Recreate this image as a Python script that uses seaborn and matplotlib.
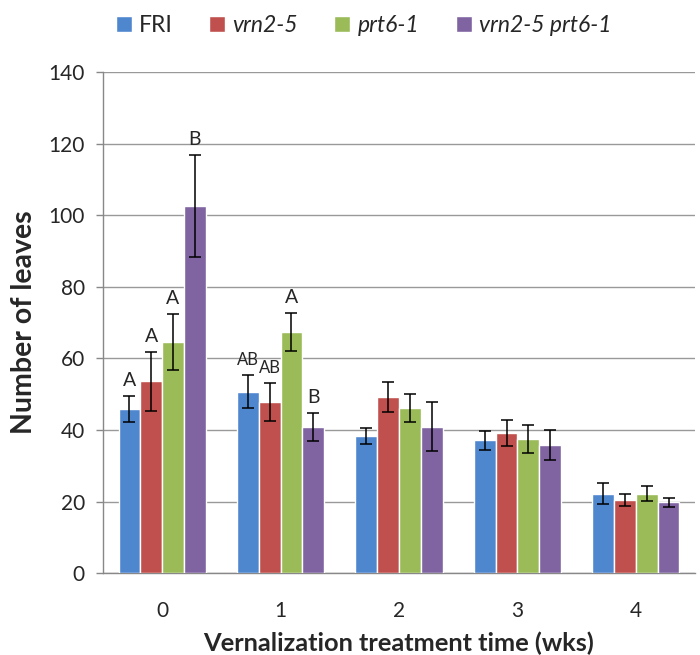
import numpy as np
import pandas as pd
import matplotlib
matplotlib.use("Agg")
import matplotlib.pyplot as plt
import seaborn as sns

# data
weeks = ["0", "1", "2", "3", "4"]
genotypes = ["FRI", "vrn2-5", "prt6-1", "vrn2-5 prt6-1"]
fri = [45.8, 50.7, 38.4, 37.1, 22.2]
vrn = [53.6, 47.7, 49.2, 39.2, 20.4]
prt = [64.5, 67.3, 46.1, 37.5, 22.2]
dbl = [102.5, 40.8, 40.9, 35.7, 19.8]
fri_err = [3.6, 4.6, 2.2, 2.7, 3.0]
vrn_err = [8.2, 5.3, 4.2, 3.6, 1.7]
prt_err = [7.8, 5.3, 3.9, 3.9, 2.1]
dbl_err = [14.3, 4.0, 6.9, 4.2, 1.3]
# significance letters (only weeks 0 and 1)
letters = {
    "FRI": ["A", "AB", "", "", ""],
    "vrn2-5": ["A", "AB", "", "", ""],
    "prt6-1": ["A", "A", "", "", ""],
    "vrn2-5 prt6-1": ["B", "B", "", "", ""],
}

colors = ["#4F87CF", "#C0504D", "#9BBB59", "#8064A2"]

values = [fri, vrn, prt, dbl]
errors = [fri_err, vrn_err, prt_err, dbl_err]
df = pd.DataFrame({
    "week": weeks * 4,
    "genotype": np.repeat(genotypes, len(weeks)),
    "leaves": np.concatenate(values),
})

sns.set_style("white")
plt.rcParams["font.family"] = ["Lato", "DejaVu Sans"]

fig = plt.figure(figsize=(7, 6.55), dpi=100)
ax = fig.add_axes([0.147, 0.125, 0.846, 0.765])

sns.barplot(data=df, x="week", y="leaves", hue="genotype", order=weeks,
            hue_order=genotypes, palette=colors, width=0.735, errorbar=None,
            saturation=1, ax=ax, zorder=3)

for cont, err, g in zip(ax.containers, errors, genotypes):
    xs = [b.get_x() + b.get_width() / 2 for b in cont]
    hs = [b.get_height() for b in cont]
    ax.errorbar(xs, hs, yerr=err, fmt="none", ecolor="black", elinewidth=1.1,
                capsize=4, capthick=1.1, zorder=4)
    for x, h, e, lab in zip(xs, hs, err, letters[g]):
        if lab:
            ax.text(x, h + e + 2, lab, ha="center", va="bottom",
                    fontsize=14 if len(lab) == 1 else 12, zorder=5)

ax.set_ylim(0, 140)
ax.set_xlim(-0.5, 4.5)
ax.set_yticks(range(0, 141, 20))
ax.yaxis.grid(True, color="#999999", linewidth=1)
ax.set_axisbelow(True)

ax.set_xticks(np.arange(-0.5, 4.6, 1), minor=True)
ax.tick_params(axis="x", which="major", length=0, pad=20, labelsize=15)
ax.tick_params(axis="x", which="minor", length=6, color="#888888", width=1)
ax.tick_params(axis="y", length=5, color="#888888", width=1, labelsize=15,
               left=True, pad=8)

for s in ["top", "right"]:
    ax.spines[s].set_visible(False)
for s in ["left", "bottom"]:
    ax.spines[s].set_color("#888888")
    ax.spines[s].set_linewidth(1)

ax.set_xlabel("Vernalization treatment time (wks)", fontsize=18.3,
              fontweight="bold", labelpad=8)
ax.set_ylabel("Number of leaves", fontsize=20.5, fontweight="bold", labelpad=8)

handles, labs = ax.get_legend_handles_labels()
leg = ax.legend(handles, labs, loc="lower center", bbox_to_anchor=(0.44, 1.03),
                ncol=4, frameon=False, fontsize=16.5, handlelength=0.7,
                handleheight=0.7, handletextpad=0.3, columnspacing=1.6)
for t in leg.get_texts():
    if t.get_text() != "FRI":
        t.set_fontstyle("italic")

fig.savefig("out.png", dpi=100)
